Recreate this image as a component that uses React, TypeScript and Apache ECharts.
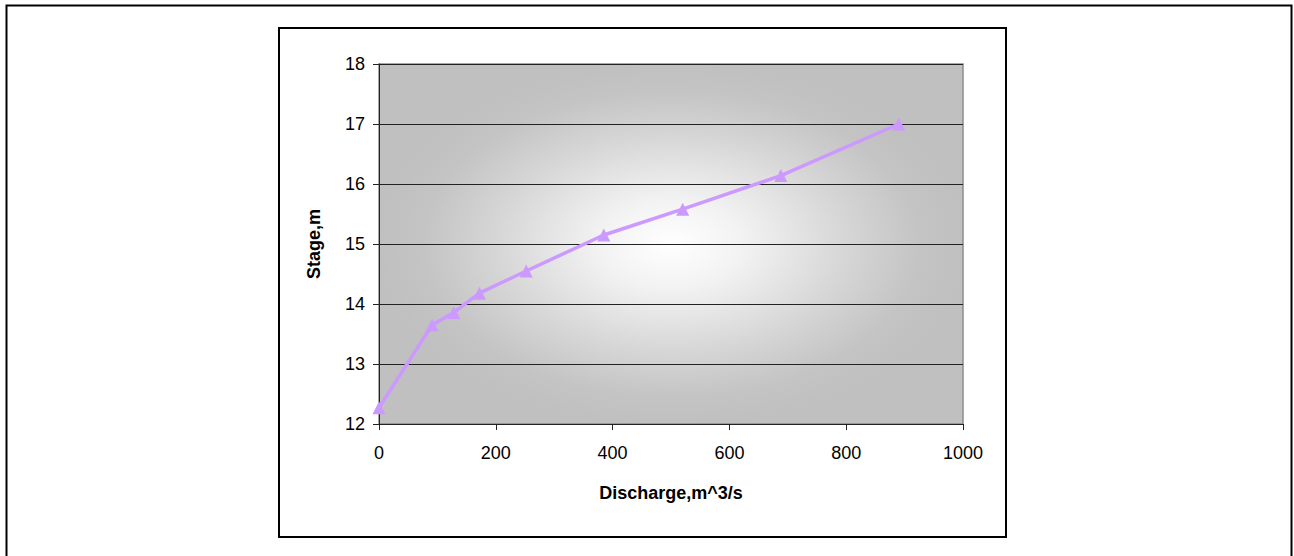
import React, { useEffect, useRef } from "react";
import * as echarts from "echarts";

const discharge = [0, 91, 128, 172, 252, 385, 520, 688, 890];
const stage = [12.27, 13.65, 13.86, 14.18, 14.55, 15.15, 15.58, 16.14, 17.0];
const xTitle = "Discharge,m^3/s";
const yTitle = "Stage,m";

export default function App() {
  const ref = useRef<HTMLDivElement>(null);
  useEffect(() => {
    const chart = echarts.init(ref.current!, null, { renderer: "svg" });
    const font = "Arial, 'Liberation Sans', sans-serif";
    chart.setOption({
      animation: false,
      backgroundColor: "#ffffff",
      grid: { left: 379, top: 64, width: 584, height: 360, show: false },
      graphic: [
        {
          type: "rect",
          shape: { x: 6.5, y: 5.5, width: 1285, height: 600 },
          style: { fill: "none", stroke: "#000", lineWidth: 2 },
          silent: true,
          z: -10,
        },
        {
          type: "rect",
          shape: { x: 279, y: 28, width: 727, height: 509 },
          style: { fill: "#fff", stroke: "#000", lineWidth: 2 },
          silent: true,
          z: -9,
        },
        {
          type: "rect",
          x: 379,
          y: 64,
          scaleX: 584 / 360,
          scaleY: 1,
          shape: { x: 0, y: 0, width: 360, height: 360 },
          style: {
            fill: new echarts.graphic.RadialGradient(0.5, 0.5, 0.5, [
              { offset: 0, color: "#ffffff" },
              { offset: 0.25, color: "#f2f2f2" },
              { offset: 0.6, color: "#d6d6d6" },
              { offset: 0.85, color: "#c4c4c4" },
              { offset: 1, color: "#c0c0c0" },
            ]),
          },
          silent: true,
          z: -8,
        },
        {
          type: "rect",
          shape: { x: 379, y: 64, width: 584, height: 360 },
          style: { fill: "none", stroke: "#8c8c8c", lineWidth: 1.5 },
          silent: true,
          z: -7,
        },
      ],
      xAxis: {
        type: "value",
        min: 0,
        max: 1000,
        interval: 200,
        name: xTitle,
        nameLocation: "middle",
        nameGap: 60,
        nameTextStyle: { fontFamily: font, fontSize: 18, fontWeight: "bold", color: "#000" },
        axisLine: { show: true, lineStyle: { color: "#222", width: 1 } },
        axisTick: { show: true, inside: false, length: 6, lineStyle: { color: "#222" } },
        axisLabel: {
          fontFamily: font,
          fontSize: 18,
          color: "#000",
          margin: 20,
          formatter: (v: number) => String(v),
        },
        splitLine: { show: false },
      },
      yAxis: {
        type: "value",
        min: 12,
        max: 18,
        interval: 1,
        name: yTitle,
        nameLocation: "middle",
        nameGap: 56,
        nameRotate: 90,
        nameTextStyle: { fontFamily: font, fontSize: 18, fontWeight: "bold", color: "#000" },
        axisLine: { show: true, lineStyle: { color: "#222", width: 1 } },
        axisTick: { show: true, inside: false, length: 6, lineStyle: { color: "#222" } },
        axisLabel: { fontFamily: font, fontSize: 18, color: "#000", margin: 14 },
        splitLine: { show: true, lineStyle: { color: "#222", width: 1 } },
      },
      series: [
        {
          type: "line",
          data: discharge.map((d, i) => [d, stage[i]]),
          symbol: "triangle",
          symbolSize: 13,
          showSymbol: true,
          itemStyle: { color: "#cc99ff" },
          lineStyle: { color: "#cc99ff", width: 3.5 },
          z: 5,
        },
      ],
    });
    return () => chart.dispose();
  }, []);
  return (
    <div
      ref={ref}
      style={{ position: "absolute", left: 0, top: 0, width: 1294, height: 556 }}
    />
  );
}
